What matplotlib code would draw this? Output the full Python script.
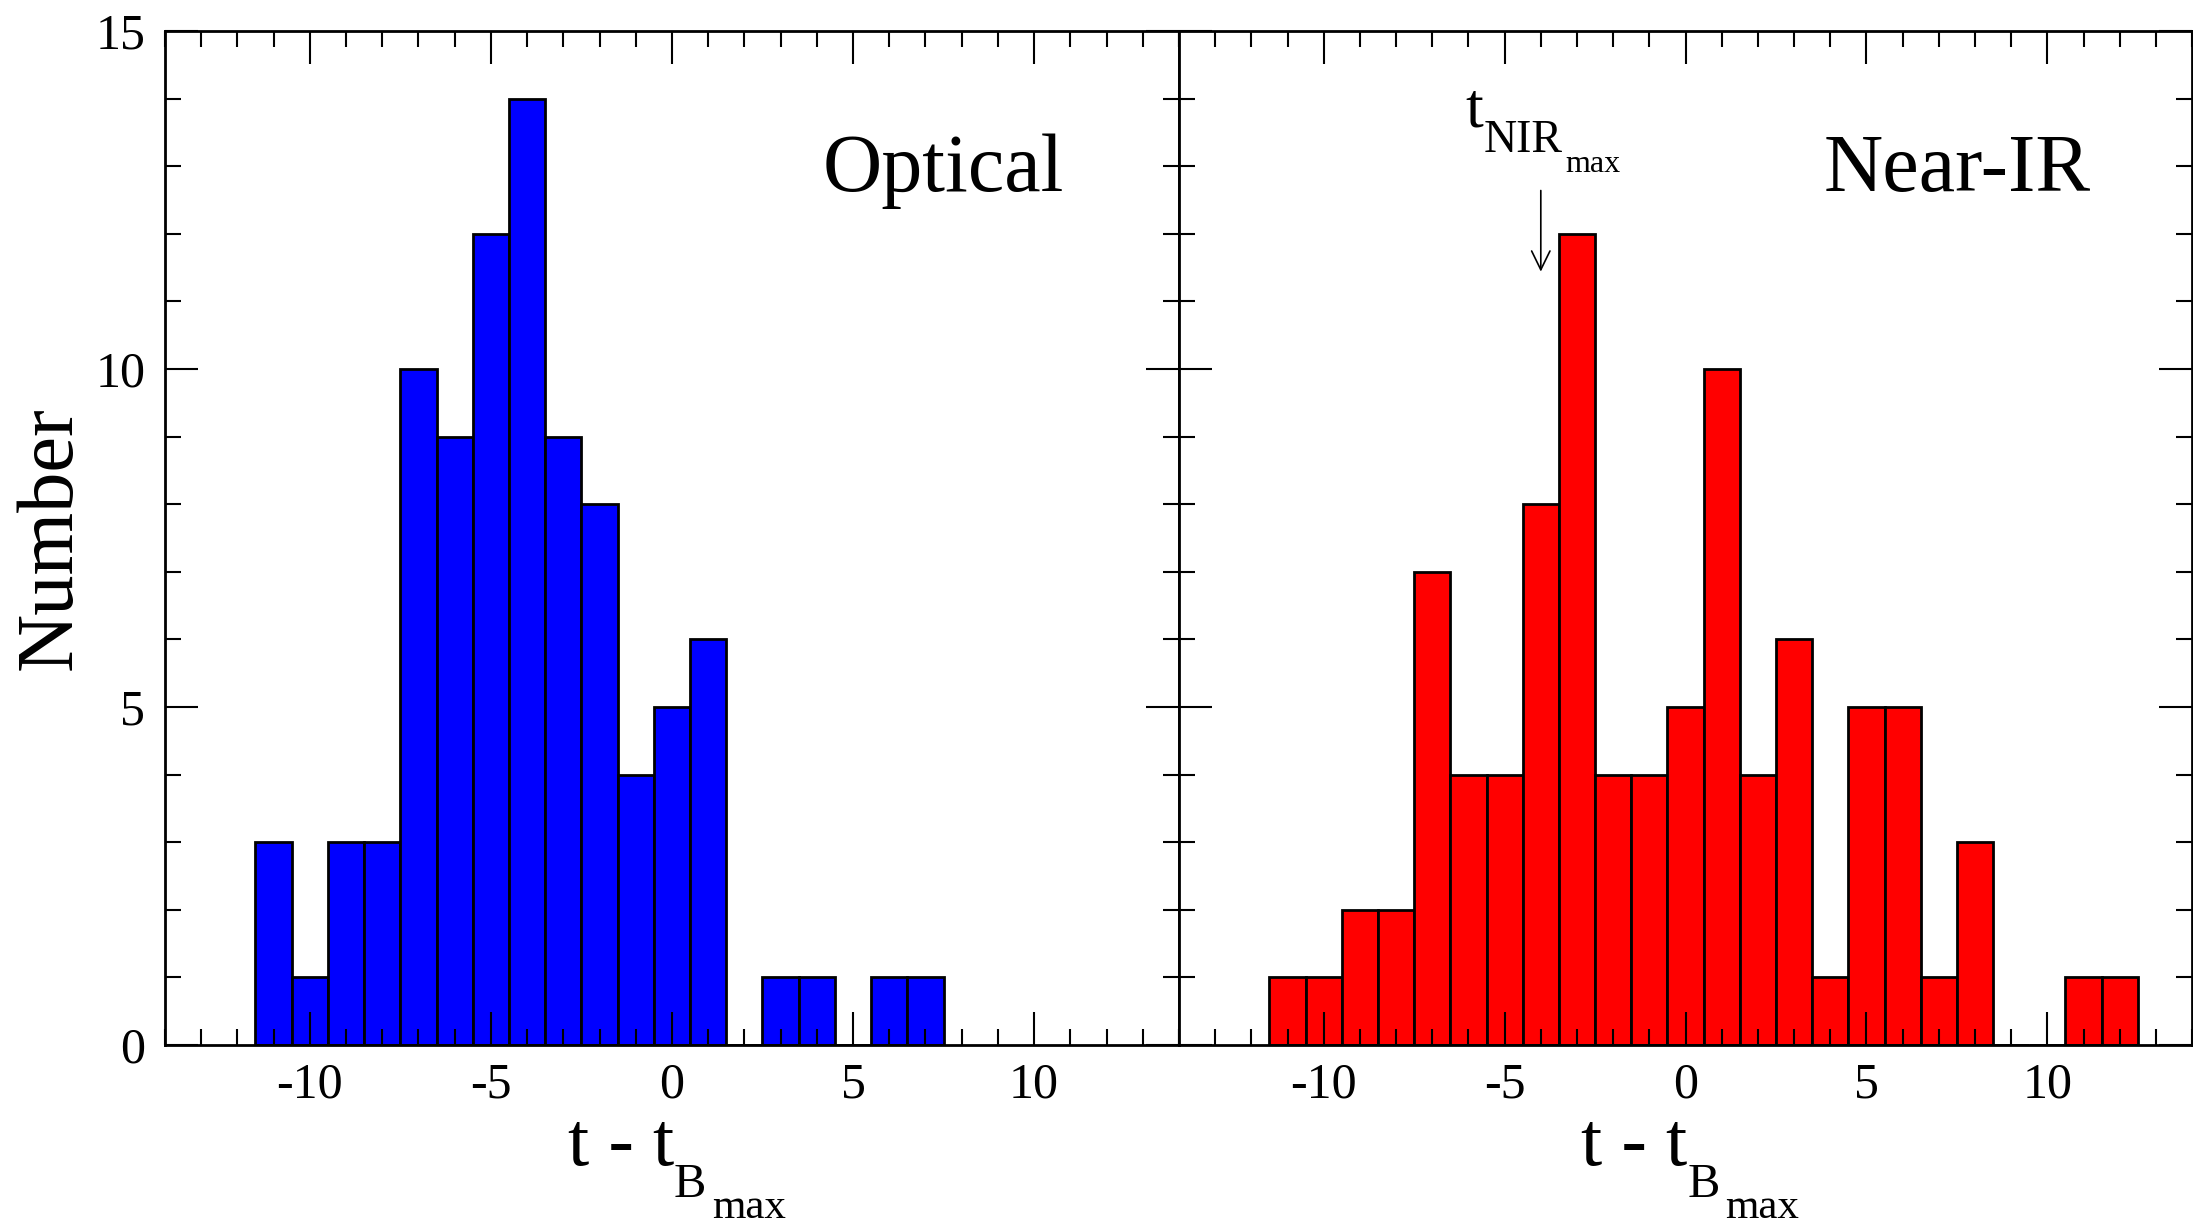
import matplotlib
matplotlib.use("Agg")
import matplotlib.pyplot as plt
from matplotlib.ticker import MultipleLocator

plt.rcParams['font.family'] = ['Liberation Serif', 'DejaVu Serif']

# Data
optical_days = [-11, -10, -9, -8, -7, -6, -5, -4, -3, -2, -1, 0, 1, 2, 3, 4, 5, 6, 7]
optical_counts = [3, 1, 3, 3, 10, 9, 12, 14, 9, 8, 4, 5, 6, 0, 1, 1, 0, 1, 1]

nir_days = [-11, -10, -9, -8, -7, -6, -5, -4, -3, -2, -1, 0, 1, 2, 3, 4, 5, 6, 7, 8, 9, 10, 11, 12]
nir_counts = [1, 1, 2, 2, 7, 4, 4, 8, 12, 4, 4, 5, 10, 4, 6, 1, 5, 5, 1, 3, 0, 0, 1, 1]

x_ticks = [-10, -5, 0, 5, 10]
x_ticklabels = ['-10', '-5', '0', '5', '10']
y_ticks = [0, 5, 10, 15]
y_ticklabels = ['0', '5', '10', '15']

nir_max_day = -4

fig = plt.figure(figsize=(21.93, 12.24), dpi=100)
ax1 = fig.add_axes([0.0752, 0.1462, 0.4624, 0.8285])
ax2 = fig.add_axes([0.5376, 0.1462, 0.4620, 0.8285])


def style(ax, show_y):
    ax.set_xlim(-14, 14)
    ax.set_ylim(0, 15)
    ax.set_xticks(x_ticks)
    ax.set_xticklabels(x_ticklabels)
    ax.set_yticks(y_ticks)
    if show_y:
        ax.set_yticklabels(y_ticklabels)
    else:
        ax.set_yticklabels([])
    ax.xaxis.set_minor_locator(MultipleLocator(1))
    ax.yaxis.set_minor_locator(MultipleLocator(1))
    ax.tick_params(which='both', direction='in', top=True, right=True,
                   width=1.5, labelsize=36)
    ax.tick_params(axis='x', which='major', pad=12)
    ax.tick_params(axis='y', which='major', pad=14)
    ax.tick_params(which='major', length=24)
    ax.tick_params(which='minor', length=11.5)
    for s in ax.spines.values():
        s.set_linewidth(2)
    # x label: t - t_{B_max}
    ax.annotate('t - t', xy=(0.5, 0), xycoords='axes fraction',
                xytext=(1.4, -86.4), textcoords='offset points',
                ha='right', va='baseline', fontsize=55)
    ax.annotate('B', xy=(0.5, 0), xycoords='axes fraction',
                xytext=(1.4, -109.4), textcoords='offset points',
                ha='left', va='baseline', fontsize=35)
    ax.annotate('max', xy=(0.5, 0), xycoords='axes fraction',
                xytext=(28.8, -124.5), textcoords='offset points',
                ha='left', va='baseline', fontsize=31)


ax1.bar(optical_days, optical_counts, width=1.0, color='#0000ff',
        edgecolor='black', linewidth=2)
ax2.bar(nir_days, nir_counts, width=1.0, color='#ff0000',
        edgecolor='black', linewidth=2)

style(ax1, True)
style(ax2, False)
ax1.set_ylabel('Number', fontsize=58, labelpad=6)

ax1.text(7.5, 12.92, 'Optical', fontsize=59, ha='center', va='center')
ax2.text(7.5, 12.92, 'Near-IR', fontsize=59, ha='center', va='center')

ax2.annotate('', xy=(nir_max_day, 11.44), xytext=(nir_max_day, 12.64),
             arrowprops=dict(arrowstyle='->,head_length=0.45,head_width=0.22',
                             lw=1.2, color='black', mutation_scale=30,
                             shrinkA=0, shrinkB=0))
ax2.annotate('t', xy=(nir_max_day, 13.58), xycoords='data',
             xytext=(-54, 0), textcoords='offset points',
             ha='left', va='baseline', fontsize=46)
ax2.annotate('NIR', xy=(nir_max_day, 13.58), xycoords='data',
             xytext=(-41, -18), textcoords='offset points',
             ha='left', va='baseline', fontsize=33)
ax2.annotate('max', xy=(nir_max_day, 13.58), xycoords='data',
             xytext=(18, -32.4), textcoords='offset points',
             ha='left', va='baseline', fontsize=23)

fig.savefig('out.png', dpi=100)
